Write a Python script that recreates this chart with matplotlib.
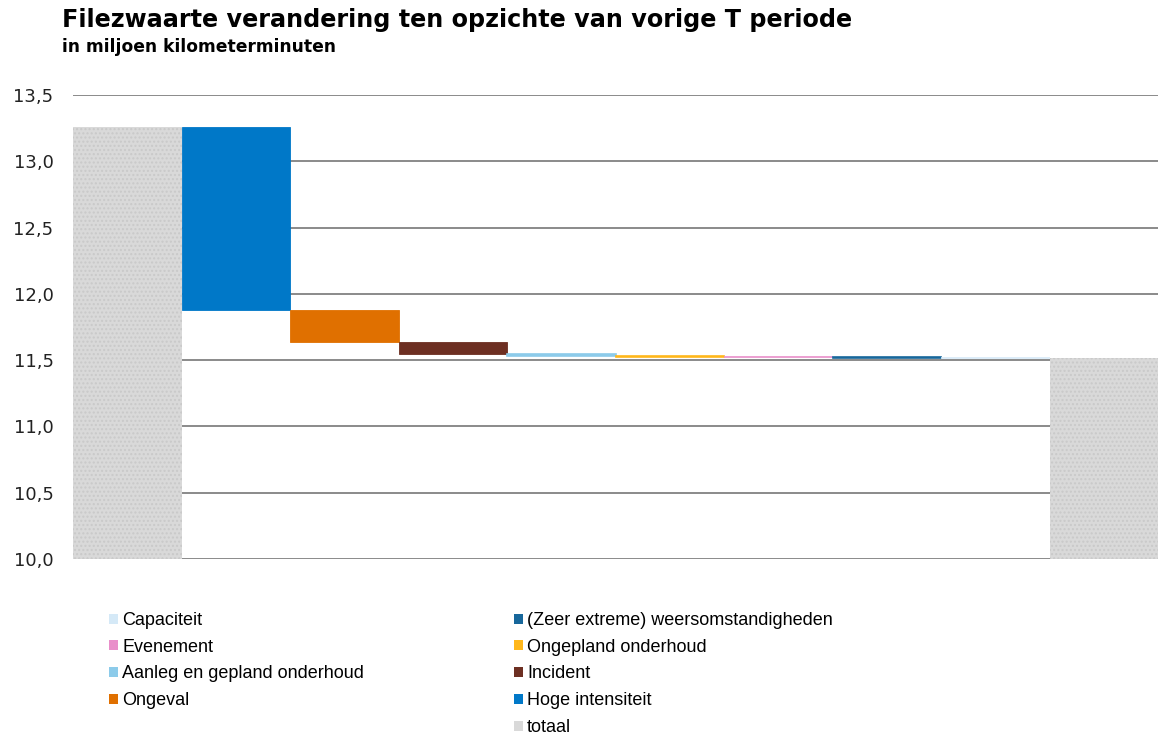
import matplotlib.pyplot as plt
from matplotlib.patches import Patch
from matplotlib.ticker import FuncFormatter

# waterfall data (miljoen kilometerminuten)
start_total = 13.261
categories = ["Hoge intensiteit", "Ongeval", "Incident", "Aanleg en gepland onderhoud",
              "Ongepland onderhoud", "Evenement", "(Zeer extreme) weersomstandigheden",
              "Capaciteit"]
changes = [-1.382, -0.244, -0.09, -0.010, -0.008, -0.006, -0.004, -0.002]
colors = {
    "Capaciteit": "#d5e9f7",
    "(Zeer extreme) weersomstandigheden": "#17679b",
    "Evenement": "#e98fca",
    "Ongepland onderhoud": "#ffb71b",
    "Aanleg en gepland onderhoud": "#8ccbea",
    "Incident": "#6d2f22",
    "Ongeval": "#e07000",
    "Hoge intensiteit": "#0078c8",
    "totaal": "#d9d9d9",
}
legend_col1 = ["Capaciteit", "Evenement", "Aanleg en gepland onderhoud", "Ongeval"]
legend_col2 = ["(Zeer extreme) weersomstandigheden", "Ongepland onderhoud", "Incident",
               "Hoge intensiteit", "totaal"]
yticks = [10.0, 10.5, 11.0, 11.5, 12.0, 12.5, 13.0, 13.5]

W, H = 1163, 736
fig = plt.figure(figsize=(W / 100, H / 100), dpi=100)
ax = fig.add_axes([73 / W, 1 - 559 / H, (1158 - 73) / W, (559 - 95) / H])

base = 10.0
# first total
ax.bar(0, start_total - base, bottom=base, width=1.0, color=colors["totaal"],
       hatch="....", edgecolor="#c9c9c9", linewidth=0, zorder=2)
level = start_total
for i, (cat, ch) in enumerate(zip(categories, changes)):
    new = level + ch
    lw = 1.2 if abs(ch) < 0.05 else 0.6
    ax.bar(i + 1, level - new, bottom=new, width=1.0, color=colors[cat],
           edgecolor=colors[cat], linewidth=lw, zorder=3)
    level = new
ax.bar(len(categories) + 1, level - base, bottom=base, width=1.0, color=colors["totaal"],
       hatch="....", edgecolor="#c9c9c9", linewidth=0, zorder=2)

ax.set_xlim(-0.5, len(categories) + 1.5)
ax.set_ylim(10.0, 13.5)
ax.set_yticks(yticks)
ax.yaxis.set_major_formatter(FuncFormatter(lambda v, p: f"{v:.1f}".replace(".", ",")))
ax.tick_params(axis="y", length=0, pad=14, labelsize=13, colors="#222222")
ax.set_xticks([])
for s in ax.spines.values():
    s.set_visible(False)
ax.grid(axis="y", color="#8a8a8a", linewidth=1.4, zorder=0)
ax.set_axisbelow(True)

fig.text(62 / W, 1 - 8 / H, "Filezwaarte verandering ten opzichte van vorige T periode",
         fontsize=17.2, fontweight="bold", va="top", ha="left")
fig.text(62 / W, 1 - 38 / H, "in miljoen kilometerminuten", fontsize=12.3,
         fontweight="bold", va="top", ha="left")

def make_legend(names, x):
    handles = [Patch(facecolor=colors[n], edgecolor="none") for n in names]
    leg = fig.legend(handles, names, loc="upper left", bbox_to_anchor=(x / W, 1 - 612 / H),
                     frameon=False, handlelength=0.48, handleheight=0.48, handletextpad=0.25,
                     labelspacing=0.54, borderpad=0, borderaxespad=0,
                     prop={"family": "Liberation Sans", "size": 13})
    return leg

make_legend(legend_col1, 109)
make_legend(legend_col2, 514)

fig.savefig("out.png", dpi=100)
